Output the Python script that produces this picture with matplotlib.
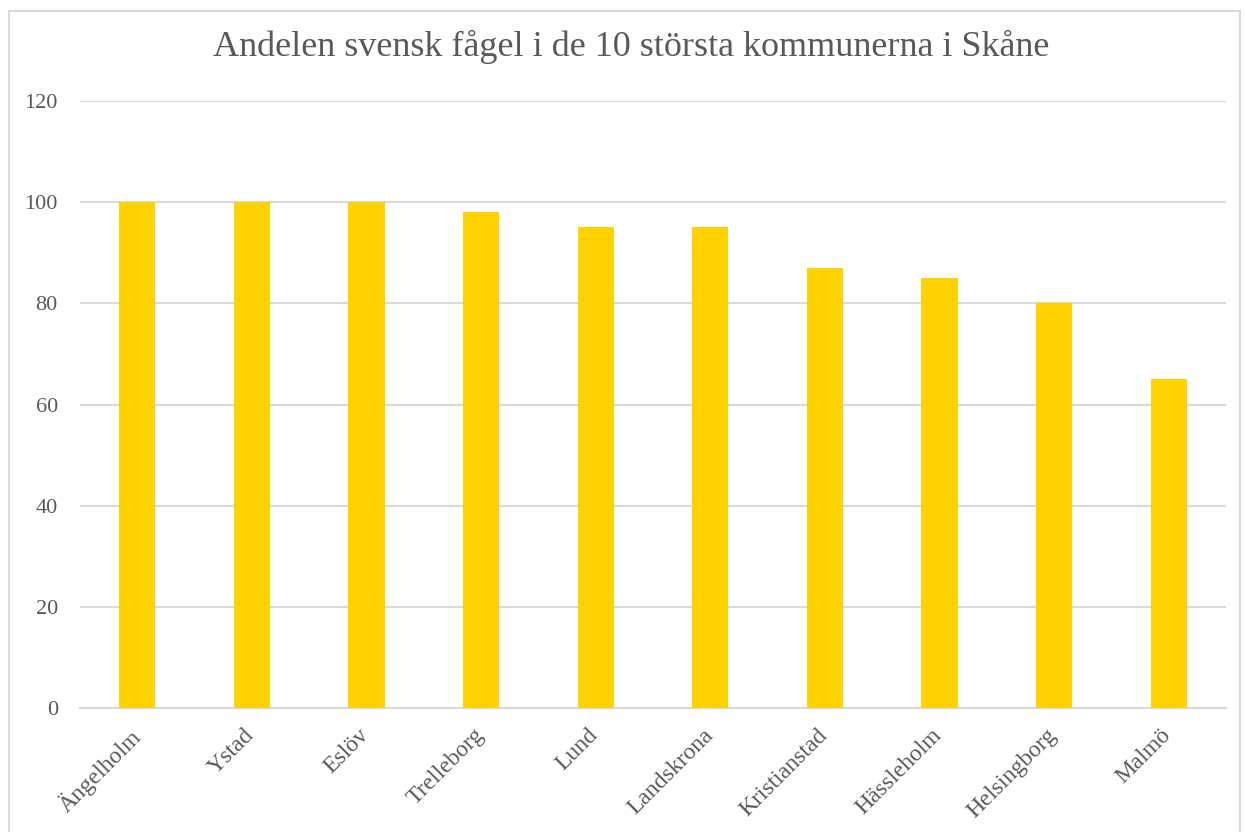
import matplotlib.pyplot as plt
import matplotlib.transforms as mtransforms
from matplotlib.patches import Rectangle

# Andel svensk fågel per kommun (%)
kommuner = ['Ängelholm', 'Ystad', 'Eslöv', 'Trelleborg', 'Lund', 'Landskrona',
            'Kristianstad', 'Hässleholm', 'Helsingborg', 'Malmö']
andel = [100, 100, 100, 98, 95, 95, 87, 85, 80, 65]
yticks = [0, 20, 40, 60, 80, 100, 120]

plt.rcParams['font.family'] = ['Liberation Serif', 'DejaVu Serif']
grey = '#595959'

fig = plt.figure(figsize=(12.45, 8.32), dpi=100)
ax = fig.add_axes([80 / 1245, 1 - 708 / 832, 1146 / 1245, 607 / 832])

# light frame around the chart area
fig.patches.append(Rectangle((9 / 1245, -0.01), 1231 / 1245, 1 - 11 / 832 + 0.01,
                             transform=fig.transFigure, fill=False,
                             edgecolor='#d9d9d9', linewidth=1.5))

x = list(range(len(kommuner)))
ax.bar(x, andel, width=0.315, color='#FFD300', zorder=3)

ax.set_xlim(-0.5, len(kommuner) - 0.5)
ax.set_ylim(0, 120)
ax.set_yticks(yticks)
ax.set_yticklabels([str(v) for v in yticks], fontsize=16, color=grey)
ax.set_xticks(x)
ax.set_xticklabels(kommuner, rotation=45, ha='right', rotation_mode='anchor',
                   fontsize=17, color=grey)
ax.tick_params(axis='both', length=0)
ax.tick_params(axis='y', pad=16)
ax.tick_params(axis='x', pad=12)

# nudge rotated labels a bit to the left
shift = mtransforms.ScaledTranslation(-8 / 100, 0, fig.dpi_scale_trans)
for lbl in ax.get_xticklabels():
    lbl.set_transform(lbl.get_transform() + shift)

ax.yaxis.grid(True, color='#d9d9d9', linewidth=1.5, zorder=0)
for side in ['top', 'right', 'left']:
    ax.spines[side].set_visible(False)
ax.spines['bottom'].set_color('#d9d9d9')
ax.spines['bottom'].set_linewidth(1.5)

fig.text(631 / 1245, 1 - 47 / 832, 'Andelen svensk fågel i de 10 största kommunerna i Skåne',
         ha='center', va='center', fontsize=26, color=grey)

fig.savefig('out.png', dpi=100)
